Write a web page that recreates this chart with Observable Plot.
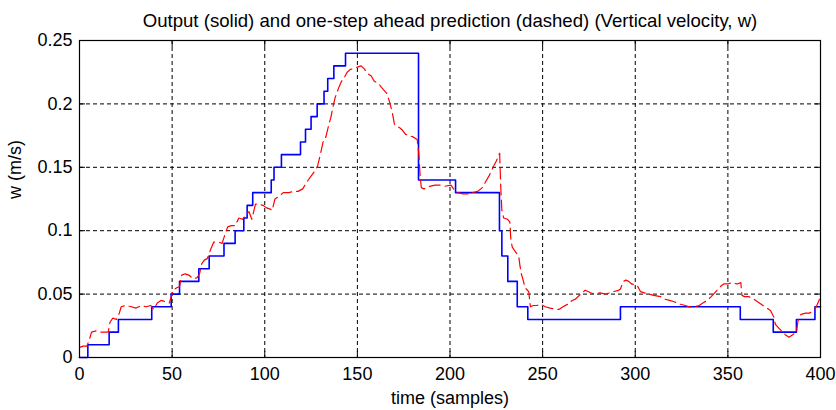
<!DOCTYPE html>
<html>
<head>
<meta charset="utf-8">
<script src="https://cdn.jsdelivr.net/npm/d3@7"></script>
<script src="https://cdn.jsdelivr.net/npm/@observablehq/plot@0.6"></script>
<style>
  html, body { margin: 0; padding: 0; background: #fff; }
  #chart svg { display: block; }
</style>
</head>
<body>
<div id="chart"></div>
<script>
// ---- Data ----
const titleText = "Output (solid) and one-step ahead prediction (dashed) (Vertical velocity, w)";
const xLabel = "time (samples)";
const yLabel = "w (m/s)";

const xTicks = [0, 50, 100, 150, 200, 250, 300, 350, 400];
const yTicks = [0, 0.05, 0.1, 0.15, 0.2, 0.25];
const yTickLabels = ["0", "0.05", "0.1", "0.15", "0.2", "0.25"];

// Measured output (solid blue, staircase): sample where each level starts, and the level
const blueT = [0, 4.5, 16, 21, 39, 49.5, 54, 64.4, 70, 78, 84, 88.7, 90.5, 93.5, 103.5, 105, 109,
  119.3, 122, 125, 128.3, 132, 134, 137.3, 143.6, 183, 203, 226.7, 228, 231.2, 236.3, 242,
  292, 356.7, 374.5, 387, 397, 400];
const blueW = [0, 0.01, 0.02, 0.03, 0.04, 0.05, 0.06, 0.07, 0.08, 0.09, 0.10, 0.11, 0.12, 0.13, 0.14, 0.15, 0.16,
  0.17, 0.18, 0.19, 0.20, 0.21, 0.22, 0.23, 0.24, 0.14, 0.13, 0.10, 0.08, 0.06, 0.04, 0.03,
  0.04, 0.03, 0.02, 0.03, 0.04, 0.04];

// One-step ahead prediction (dashed red)
const redT = [0, 2, 4, 5.5, 6.5, 9, 11, 13, 15.5, 16.5, 18, 20, 21.5, 22.5, 25, 28, 30.5, 33.5, 36, 38.5,
  40, 42, 44, 46.5, 48.5, 49.5, 50.5, 52.5, 54, 55.2, 57, 59, 61.5, 63.5, 64.8, 66, 67.5, 69, 71, 72.5,
  75, 77, 78.5, 80, 82, 84, 86, 88, 90, 91.5, 93, 95, 97, 99, 101, 103, 104, 105.5, 107.5, 110,
  113, 115.5, 118, 120.5, 122.5, 125, 127, 128.5, 130, 131.5, 133, 134.5, 135.8, 136.7, 138, 140, 141.5, 143, 144.5, 146,
  148, 150, 152, 153.5, 155.5, 157.5, 159, 161.5, 163, 166, 167.5, 169, 170, 171, 173, 174.5, 176, 178, 180, 182.3,
  183.2, 183.8, 184.5, 186, 189, 192, 195, 197, 200.5, 202.4, 204, 207, 210, 212, 215, 217.4, 219, 221, 223.6, 225,
  226.8, 227.4, 228, 229, 231, 232.3, 232.8, 233.6, 235, 237.1, 237.8, 238.5, 239.5, 240.5, 242.5, 243.4, 245, 247, 249, 251.5,
  254, 257, 259, 261, 263.5, 266, 267.7, 270.5, 273, 275.9, 278, 281, 284, 288.4, 291, 292, 293.5, 295, 296.5, 298,
  301, 302.8, 305, 307.3, 310, 313.6, 316, 318.5, 321, 324.4, 327, 329, 332, 334.5, 336.5, 338.8, 341, 343.5, 346, 347.8,
  350, 352, 355, 357, 357.6, 359, 361.3, 364, 366, 368, 371, 373, 374.8, 375.7, 377, 379, 381, 383, 385, 387,
  388, 389.5, 392, 394, 396.4, 398, 399.5];
const redW = [0.008, 0.009, 0.009, 0.015, 0.020, 0.021, 0.020, 0.020, 0.020, 0.028, 0.031, 0.030, 0.035, 0.040, 0.041, 0.040, 0.039, 0.041, 0.040, 0.041,
  0.038, 0.043, 0.045, 0.044, 0.043, 0.048, 0.053, 0.055, 0.056, 0.065, 0.066, 0.065, 0.062, 0.063, 0.066, 0.074, 0.077, 0.078, 0.086, 0.091,
  0.091, 0.090, 0.097, 0.103, 0.104, 0.104, 0.110, 0.109, 0.113, 0.115, 0.109, 0.121, 0.121, 0.120, 0.118, 0.117, 0.116, 0.125, 0.127, 0.130,
  0.130, 0.131, 0.131, 0.133, 0.138, 0.143, 0.147, 0.151, 0.160, 0.170, 0.174, 0.183, 0.190, 0.197, 0.205, 0.213, 0.218, 0.221, 0.225, 0.227,
  0.228, 0.229, 0.230, 0.228, 0.224, 0.222, 0.218, 0.216, 0.213, 0.208, 0.201, 0.192, 0.184, 0.183, 0.181, 0.179, 0.176, 0.175, 0.174, 0.172,
  0.160, 0.145, 0.134, 0.133, 0.135, 0.136, 0.136, 0.135, 0.136, 0.132, 0.130, 0.129, 0.129, 0.130, 0.131, 0.134, 0.138, 0.143, 0.151, 0.155,
  0.161, 0.134, 0.116, 0.110, 0.109, 0.107, 0.094, 0.087, 0.084, 0.080, 0.072, 0.066, 0.061, 0.055, 0.052, 0.040, 0.041, 0.041, 0.042, 0.040,
  0.039, 0.038, 0.038, 0.040, 0.042, 0.045, 0.046, 0.050, 0.053, 0.051, 0.050, 0.051, 0.050, 0.052, 0.053, 0.054, 0.060, 0.061, 0.060, 0.058,
  0.057, 0.052, 0.051, 0.050, 0.049, 0.048, 0.046, 0.045, 0.044, 0.042, 0.041, 0.040, 0.040, 0.041, 0.043, 0.045, 0.048, 0.052, 0.056, 0.058,
  0.058, 0.059, 0.058, 0.059, 0.049, 0.048, 0.048, 0.046, 0.044, 0.042, 0.039, 0.037, 0.032, 0.026, 0.024, 0.021, 0.018, 0.016, 0.018, 0.020,
  0.030, 0.034, 0.035, 0.035, 0.037, 0.041, 0.046];

const blue = blueT.map((t, i) => ({t, w: blueW[i]}));
const red = redT.map((t, i) => ({t, w: redW[i]}));

const chart = Plot.plot({
  width: 836,
  height: 410,
  marginLeft: 79,
  marginRight: 16,
  marginTop: 40,
  marginBottom: 53,
  style: {fontFamily: "'Liberation Sans', Arial, Helvetica, sans-serif", fontSize: "18px", background: "#fff", color: "#000"},
  x: {domain: [0, 400]},
  y: {domain: [0, 0.25]},
  marks: [
    Plot.gridX(xTicks, {stroke: "#000", strokeOpacity: 1, strokeDasharray: "4,3"}),
    Plot.gridY(yTicks, {stroke: "#000", strokeOpacity: 1, strokeDasharray: "4,3"}),
    Plot.line(blue, {x: "t", y: "w", curve: "step-after", stroke: "#0000ff", strokeWidth: 1.6}),
    Plot.line(red, {x: "t", y: "w", stroke: "#ff0000", strokeWidth: 1.2, strokeDasharray: "11,5"}),
    Plot.frame({stroke: "#000", strokeWidth: 1.2}),
    Plot.axisX(xTicks, {anchor: "bottom", tickSize: -6, tickPadding: 16, label: null, tickFormat: d => String(d), fontSize: 18}),
    Plot.axisX(xTicks, {anchor: "top", tickSize: -6, label: null, tickFormat: () => ""}),
    Plot.axisY(yTicks, {anchor: "left", tickSize: -6, tickPadding: 13, label: null, tickFormat: (d, i) => yTickLabels[i], fontSize: 18}),
    Plot.axisY(yTicks, {anchor: "right", tickSize: -6, label: null, tickFormat: () => ""}),
    Plot.text([titleText], {frameAnchor: "top", dy: -14, lineAnchor: "bottom", text: d => d, fontSize: 18.6}),
    Plot.text([xLabel], {frameAnchor: "bottom", dy: 46, lineAnchor: "bottom", text: d => d, fontSize: 18}),
    Plot.text([yLabel], {frameAnchor: "left", dx: -64, rotate: -90, lineAnchor: "middle", text: d => d, fontSize: 18})
  ]
});
document.getElementById("chart").appendChild(chart);
</script>
</body>
</html>
